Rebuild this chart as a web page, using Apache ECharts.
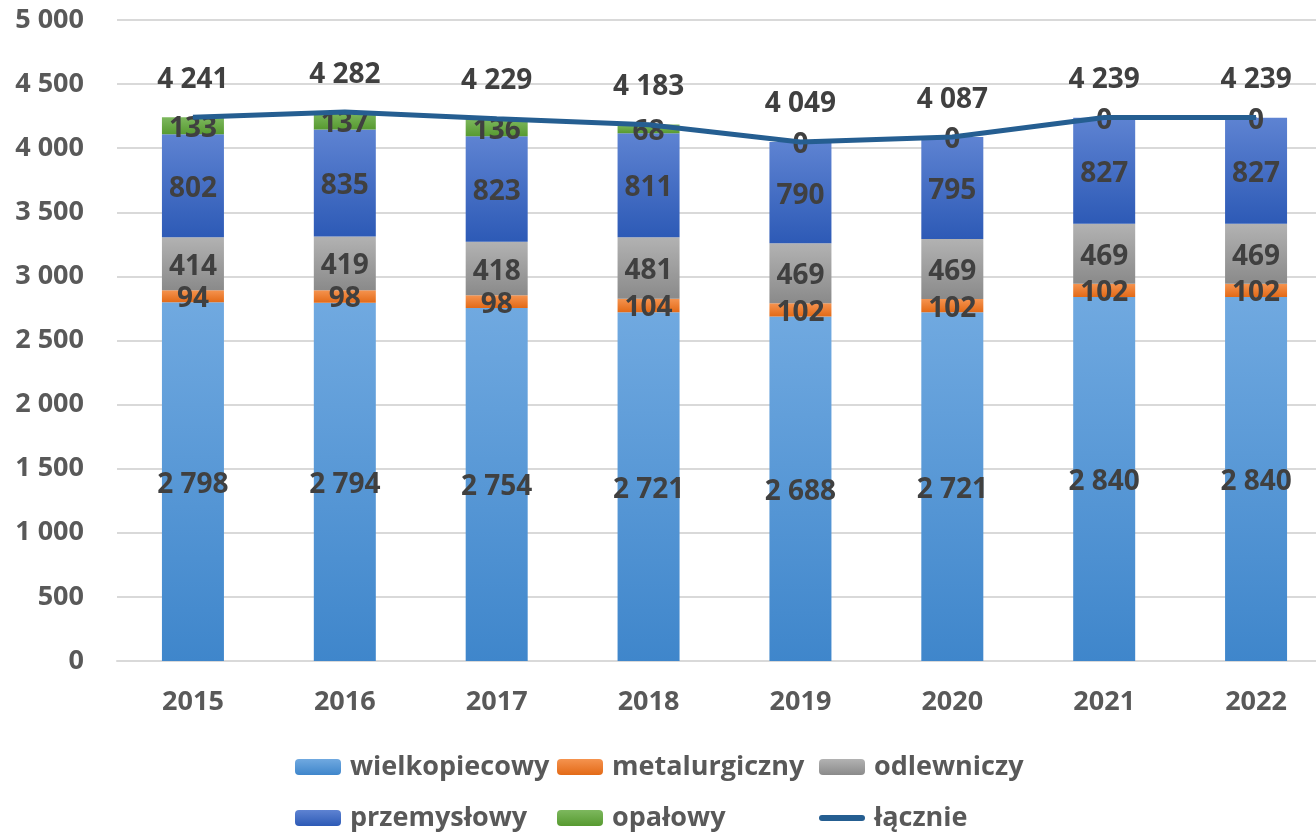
<!DOCTYPE html>
<html>
<head>
<meta charset="utf-8">
<script src="https://cdn.jsdelivr.net/npm/echarts@6/dist/echarts.min.js"></script>
<style>
  html, body { margin: 0; padding: 0; background: #fff; }
  #main { width: 1316px; height: 834px; }
</style>
</head>
<body>
<div id="main"></div>
<script>
  const years = ['2015', '2016', '2017', '2018', '2019', '2020', '2021', '2022']
  const wielkopiecowy = [2798, 2794, 2754, 2721, 2688, 2721, 2840, 2840]
  const metalurgiczny = [94, 98, 98, 104, 102, 102, 102, 102]
  const odlewniczy = [414, 419, 418, 481, 469, 469, 469, 469]
  const przemyslowy = [802, 835, 823, 811, 790, 795, 827, 827]
  const opalowy = [133, 137, 136, 68, 0, 0, 0, 0]
  const lacznie = [4241, 4282, 4229, 4183, 4049, 4087, 4239, 4239]

  const fmt = v => String(v).replace(/\B(?=(\d{3})+(?!\d))/g, ' ')

  const grad = (top, bottom) => ({
    type: 'linear', x: 0, y: 0, x2: 0, y2: 1,
    colorStops: [{ offset: 0, color: top }, { offset: 1, color: bottom }]
  })

  const labelFont = {
    fontFamily: 'Open Sans',
    fontWeight: 'bold',
    fontSize: 28,
    color: '#404040'
  }

  const axisFont = {
    fontFamily: 'Open Sans',
    fontWeight: 'bold',
    fontSize: 27,
    color: '#595959'
  }

  const barSeries = (name, data, color) => ({
    name: name,
    type: 'bar',
    stack: 'total',
    data: data,
    barWidth: 62,
    itemStyle: { color: color },
    label: {
      show: true,
      position: 'inside',
      offset: [0, 3],
      formatter: p => fmt(p.value),
      ...labelFont
    },
    z: 2
  })

  // legend: one component per item so the columns line up like the original
  const lineIcon = 'path://M3,0 L43,0 A3,3 0 0 1 43,6 L3,6 A3,3 0 0 1 3,0Z'
  const legendItem = (name, left, top, icon) => ({
    data: [icon ? { name: name, icon: icon } : name],
    left: left,
    top: top,
    padding: 0,
    itemWidth: 46,
    itemHeight: 16,
    textStyle: {
      fontFamily: 'Open Sans', fontWeight: 'bold', fontSize: 27,
      color: '#595959', lineHeight: 30, padding: [0, 0, 0, 4]
    }
  })

  let myChart = echarts.init(document.getElementById('main'))
  myChart.setOption({
    animation: false,
    grid: {
      left: 117,
      right: -16,
      top: 20,
      bottom: 173,
      outerBoundsMode: 'none'
    },
    legend: [
      legendItem('wielkopiecowy', 295, 752),
      legendItem('metalurgiczny', 557, 752),
      legendItem('odlewniczy', 819, 752),
      legendItem('przemysłowy', 295, 803),
      legendItem('opałowy', 557, 803),
      legendItem('łącznie', 819, 803, lineIcon)
    ],
    xAxis: {
      type: 'category',
      data: years,
      axisLine: { lineStyle: { color: '#D9D9D9', width: 2 } },
      axisTick: { show: false },
      axisLabel: { margin: 28, ...axisFont }
    },
    yAxis: {
      type: 'value',
      min: 0,
      max: 5000,
      interval: 500,
      axisLine: { show: false },
      axisTick: { show: false },
      splitLine: { lineStyle: { color: '#D9D9D9', width: 2 } },
      axisLabel: { margin: 33, formatter: v => fmt(v), ...axisFont }
    },
    series: [
      barSeries('wielkopiecowy', wielkopiecowy, grad('#70A9E0', '#3F86CB')),
      barSeries('metalurgiczny', metalurgiczny, grad('#F5934F', '#E36A17')),
      barSeries('odlewniczy', odlewniczy, grad('#B2B2B2', '#8A8A8A')),
      barSeries('przemysłowy', przemyslowy, grad('#5E83D2', '#2D5AB6')),
      barSeries('opałowy', opalowy, grad('#7DB85E', '#579A30')),
      {
        name: 'łącznie',
        type: 'line',
        data: lacznie,
        symbol: 'circle',
        symbolSize: 1,
        lineStyle: { color: '#255E91', width: 5 },
        itemStyle: { color: '#255E91' },
        label: {
          show: true,
          position: 'top',
          distance: 23,
          formatter: p => fmt(p.value),
          ...labelFont
        },
        z: 3
      }
    ]
  }, true)
</script>
</body>
</html>
